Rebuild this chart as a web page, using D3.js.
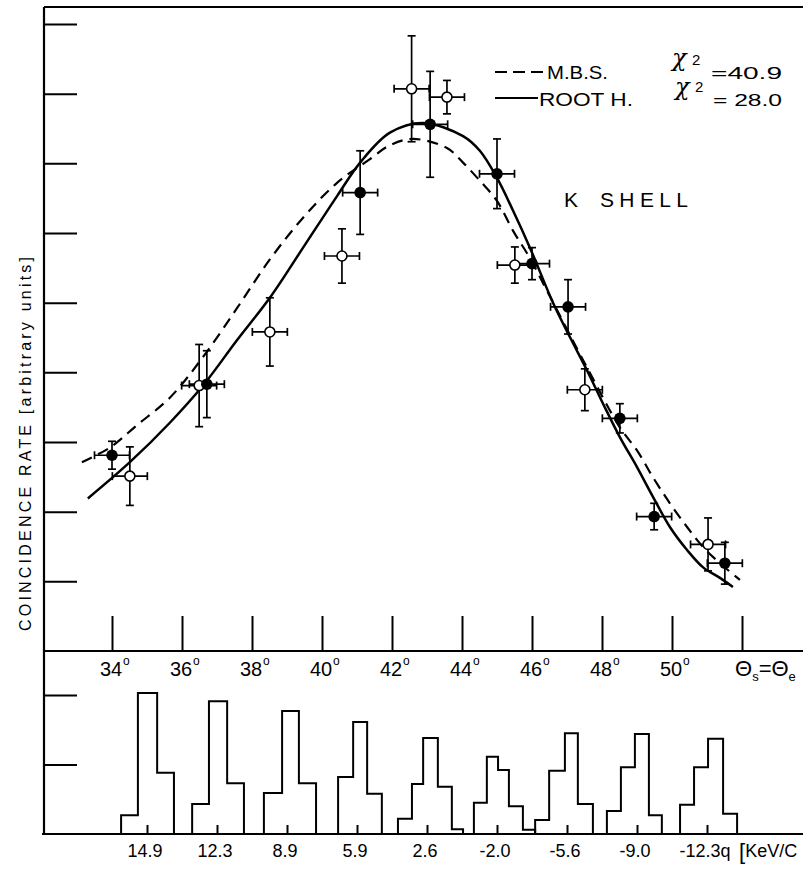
<!DOCTYPE html>
<html>
<head>
<meta charset="utf-8">
<script src="https://cdn.jsdelivr.net/npm/d3@7"></script>
<style>
  body { margin: 0; background: #fff; }
  svg { display: block; font-family: "Liberation Sans", "DejaVu Sans", sans-serif; }
  .axis path.domain { display: none; }
  .axis line { stroke: #000; stroke-width: 2; }
</style>
</head>
<body>
<svg id="chart" width="803" height="870"></svg>
<script>
// ---- upper panel: coincidence rate vs angle ----
// filled points
const filledAngle = [34.0, 36.71, 41.09, 43.09, 45.0, 46.0, 47.03, 48.51, 49.49, 51.51];
const filledRate  = [2.81, 3.83, 6.58, 7.56, 6.85, 5.56, 4.94, 3.34, 1.93, 1.26];
const filledErr   = [0.2, 0.48, 0.6, 0.76, 0.5, 0.23, 0.39, 0.21, 0.19, 0.3];
// open points
const openAngle = [34.51, 36.49, 38.51, 40.57, 42.56, 43.57, 45.51, 47.51, 51.03];
const openRate  = [2.51, 3.81, 4.58, 5.67, 8.07, 7.95, 5.54, 3.75, 1.53];
const openErr   = [0.42, 0.59, 0.49, 0.39, 0.76, 0.24, 0.26, 0.3, 0.38];
const angleErr = 0.5;

// theory curves
const roothAngle = [33.31, 34.51, 35.66, 36.6, 37.57, 38.51, 39.46, 40.43, 41.09, 41.94, 42.88,
  44.03, 44.51, 45.0, 45.46, 45.94, 46.6, 47.09, 47.57, 48.03, 48.51, 49.0, 49.46, 49.94,
  50.43, 50.89, 51.37, 51.74];
const roothRate = [2.19, 2.71, 3.28, 3.81, 4.46, 5.07, 5.79, 6.53, 7.01, 7.44, 7.58,
  7.39, 7.18, 6.79, 6.32, 5.79, 5.0, 4.5, 4.03, 3.55, 3.07, 2.64, 2.21, 1.78,
  1.45, 1.2, 1.05, 0.92];
const mbsAngle = [33.14, 33.94, 34.71, 35.66, 36.6, 37.57, 38.51, 39.46, 40.43, 41.37, 41.94,
  42.6, 43.57, 44.03, 44.51, 45.0, 45.46, 45.94, 46.43, 47.57, 48.51, 49.0, 49.46, 49.94,
  50.43, 50.89, 51.37, 51.94];
const mbsRate = [2.71, 2.92, 3.24, 3.64, 4.22, 4.92, 5.62, 6.22, 6.72, 7.06, 7.26,
  7.35, 7.22, 7.01, 6.75, 6.46, 6.03, 5.64, 5.17, 4.07, 3.21, 2.88, 2.49, 2.12,
  1.78, 1.49, 1.26, 1.02];

const angleTicks = [34, 36, 38, 40, 42, 44, 46, 48, 50, 52];
const angleLabels = ["34", "36", "38", "40", "42", "44", "46", "48", "50"];
const rateTicks = [1, 2, 3, 4, 5, 6, 7, 8, 9];

// ---- lower panel: momentum distributions ----
const histCenter = [35, 37, 39, 41, 43, 45, 47, 49, 51];
const histLabel = ["14.9", "12.3", "8.9", "5.9", "2.6", "-2.0", "-5.6", "-9.0", "-12.3q"];
const histEdges = [
  [34.26, 34.74, 35.29, 35.77],
  [36.29, 36.77, 37.29, 37.77],
  [38.34, 38.86, 39.34, 39.83],
  [40.46, 40.89, 41.29, 41.71],
  [42.17, 42.57, 42.89, 43.31, 43.71, 44.03],
  [44.34, 44.71, 45.03, 45.34, 45.74, 46.09],
  [46.09, 46.49, 46.94, 47.31, 47.74],
  [48.14, 48.54, 48.94, 49.34, 49.71],
  [50.23, 50.63, 51.03, 51.46, 51.86]
];
const histCounts = [
  [0.27, 2.03, 0.88],
  [0.43, 1.91, 0.73],
  [0.59, 1.77, 0.73],
  [0.82, 1.61, 0.58],
  [0.22, 0.72, 1.38, 0.68, 0.07],
  [0.45, 1.11, 0.92, 0.40, 0.06],
  [0.20, 0.91, 1.45, 0.43],
  [0.33, 0.96, 1.44, 0.27],
  [0.42, 0.96, 1.37, 0.29]
];
const countTicks = [1, 2];

// layout
const W = 803;
const axisX = 44, topY = 7, upperBase = 651, lowerBase = 834;

const svg = d3.select('#chart');

const x = d3.scaleLinear().domain([34, 52]).range([112, 742]);
const y = d3.scaleLinear().domain([0, 9]).range([upperBase, 24]);
const yh = d3.scaleLinear().domain([0, 2]).range([lowerBase, 695]);

// frame lines
const frame = svg.append('g').attr('stroke', '#000').attr('stroke-width', 2.2).attr('fill', 'none');
frame.append('line').attr('x1', axisX).attr('x2', W).attr('y1', topY).attr('y2', topY);
frame.append('line').attr('x1', axisX).attr('x2', axisX).attr('y1', topY).attr('y2', lowerBase + 1);
frame.append('line').attr('x1', axisX).attr('x2', W).attr('y1', upperBase).attr('y2', upperBase);
frame.append('line').attr('x1', axisX - 2).attr('x2', W).attr('y1', lowerBase).attr('y2', lowerBase);

// ticks via d3 axes
svg.append('g').attr('class', 'axis')
  .attr('transform', `translate(${axisX},0)`)
  .call(d3.axisRight(y).tickValues(rateTicks).tickSize(33).tickFormat(''));
svg.append('g').attr('class', 'axis')
  .attr('transform', `translate(0,${upperBase})`)
  .call(d3.axisTop(x).tickValues(angleTicks).tickSize(35).tickFormat(''));
svg.append('g').attr('class', 'axis')
  .attr('transform', `translate(${axisX},0)`)
  .call(d3.axisRight(yh).tickValues(countTicks).tickSize(33).tickFormat(''));
svg.append('g').attr('class', 'axis')
  .attr('transform', `translate(0,${lowerBase})`)
  .call(d3.axisTop(x).tickValues(histCenter).tickSize(9).tickFormat(''))
  .selectAll('line').attr('stroke-width', 1.6);

// angle labels with degree sign
const lab = svg.append('g').attr('font-size', 20).attr('fill', '#000');
angleLabels.forEach((t, i) => {
  const xx = x(angleTicks[i]);
  lab.append('text').attr('x', xx - 1).attr('y', 676).attr('text-anchor', 'middle').text(t);
  lab.append('text').attr('x', xx + 11).attr('y', 665).attr('font-size', 12).text('o');
});
// theta_s = theta_e
const th = lab.append('text').attr('x', 735).attr('y', 676).attr('font-size', 22);
th.append('tspan').text('Θ');
th.append('tspan').attr('font-size', 13).attr('dy', 5).text('s');
th.append('tspan').attr('dy', -5).text('=Θ');
th.append('tspan').attr('font-size', 13).attr('dy', 5).text('e');

// y label
svg.append('text')
  .attr('transform', 'translate(31,444) rotate(-90)')
  .attr('text-anchor', 'middle')
  .attr('font-size', 16)
  .attr('textLength', 374)
  .attr('lengthAdjust', 'spacing')
  .text('COINCIDENCE  RATE [arbitrary units]');

// curves
const line = d3.line().x(d => x(d[0])).y(d => y(d[1])).curve(d3.curveCatmullRom.alpha(0.5));
svg.append('path')
  .attr('d', line(d3.zip(mbsAngle, mbsRate)))
  .attr('fill', 'none').attr('stroke', '#000').attr('stroke-width', 2.2)
  .attr('stroke-dasharray', '11,7');
svg.append('path')
  .attr('d', line(d3.zip(roothAngle, roothRate)))
  .attr('fill', 'none').attr('stroke', '#000').attr('stroke-width', 2.5);

// error bars
function errorBars(angles, rates, errs) {
  const g = svg.append('g').attr('stroke', '#000').attr('stroke-width', 1.7);
  angles.forEach((a, i) => {
    const cx = x(a), cy = y(rates[i]);
    const y0 = y(rates[i] - errs[i]), y1 = y(rates[i] + errs[i]);
    const x0 = x(a - angleErr), x1 = x(a + angleErr);
    g.append('line').attr('x1', cx).attr('x2', cx).attr('y1', y0).attr('y2', y1);
    g.append('line').attr('x1', cx - 4).attr('x2', cx + 4).attr('y1', y0).attr('y2', y0);
    g.append('line').attr('x1', cx - 4).attr('x2', cx + 4).attr('y1', y1).attr('y2', y1);
    g.append('line').attr('x1', x0).attr('x2', x1).attr('y1', cy).attr('y2', cy);
    g.append('line').attr('x1', x0).attr('x2', x0).attr('y1', cy - 4).attr('y2', cy + 4);
    g.append('line').attr('x1', x1).attr('x2', x1).attr('y1', cy - 4).attr('y2', cy + 4);
  });
}
errorBars(openAngle, openRate, openErr);
errorBars(filledAngle, filledRate, filledErr);

svg.append('g').selectAll('circle')
  .data(d3.zip(openAngle, openRate)).join('circle')
  .attr('cx', d => x(d[0])).attr('cy', d => y(d[1])).attr('r', 5)
  .attr('fill', '#fff').attr('stroke', '#000').attr('stroke-width', 1.6);
svg.append('g').selectAll('circle')
  .data(d3.zip(filledAngle, filledRate)).join('circle')
  .attr('cx', d => x(d[0])).attr('cy', d => y(d[1])).attr('r', 5.8)
  .attr('fill', '#000');

// legend
const leg = svg.append('g').attr('fill', '#000');
leg.append('line').attr('x1', 495).attr('x2', 546).attr('y1', 72).attr('y2', 72)
  .attr('stroke', '#000').attr('stroke-width', 2).attr('stroke-dasharray', '12,6');
leg.append('line').attr('x1', 495).attr('x2', 538).attr('y1', 98).attr('y2', 98)
  .attr('stroke', '#000').attr('stroke-width', 2);
leg.append('text').attr('x', 547).attr('y', 79).attr('font-size', 18)
  .attr('textLength', 61).attr('lengthAdjust', 'spacingAndGlyphs').text('M.B.S.');
leg.append('text').attr('x', 539).attr('y', 106).attr('font-size', 18)
  .attr('textLength', 94).attr('lengthAdjust', 'spacingAndGlyphs').text('ROOT H.');
[[79, 66, '=40.9', 711, 71, 672], [106, 95, '= 28.0', 713, 69, 675]].forEach(([by, cy, t, tx, tl, cx0]) => {
  leg.append('text').attr('x', cx0).attr('y', cy).attr('font-size', 24)
    .attr('font-family', '"DejaVu Serif", serif').attr('font-style', 'italic').text('χ');
  leg.append('text').attr('x', cx0 + 20).attr('y', by - 14).attr('font-size', 15).text('2');
  leg.append('text').attr('x', tx).attr('y', by).attr('font-size', 16)
    .attr('textLength', tl).attr('lengthAdjust', 'spacingAndGlyphs').text(t);
});
leg.append('text').attr('x', 564).attr('y', 207).attr('font-size', 21).text('K');
leg.append('text').attr('x', 600).attr('y', 207).attr('font-size', 21)
  .attr('textLength', 88).attr('lengthAdjust', 'spacing').text('SHELL');

// histograms
const hline = d3.line().x(d => x(d[0])).y(d => yh(d[1]));
histEdges.forEach((edges, i) => {
  const c = histCounts[i];
  const pts = [[edges[0], 0]];
  c.forEach((v, j) => { pts.push([edges[j], v]); pts.push([edges[j + 1], v]); });
  pts.push([edges[edges.length - 1], 0]);
  svg.append('path').attr('d', hline(pts))
    .attr('fill', 'none').attr('stroke', '#000').attr('stroke-width', 2);
});
svg.append('g').attr('font-size', 18).selectAll('text')
  .data(histLabel).join('text')
  .attr('x', (d, i) => x(histCenter[i]) - 2).attr('y', 857)
  .attr('text-anchor', 'middle').text(d => d);
const unit = svg.append('text').attr('x', 739).attr('y', 859).attr('font-size', 18);
unit.append('tspan').attr('font-size', 22).attr('font-weight', 300).text('[');
unit.append('tspan').attr('dy', -2).text('KeV/C');
</script>
</body>
</html>
